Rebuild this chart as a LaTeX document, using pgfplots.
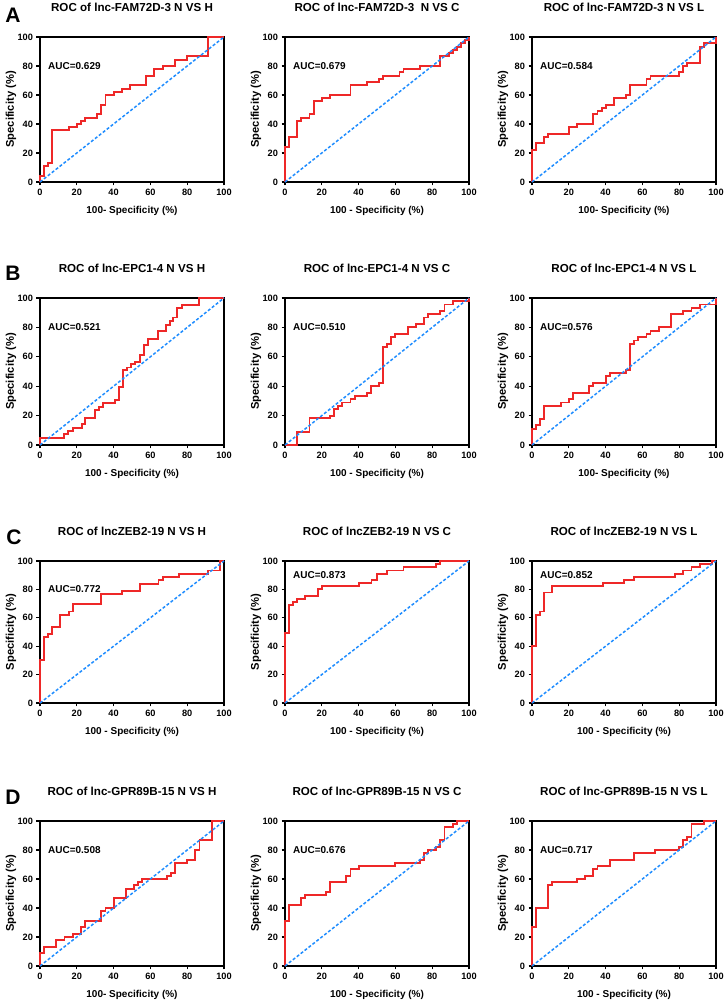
\documentclass[border=0pt]{standalone}
\usepackage{fontspec}
\setmainfont{Liberation Sans}
\usepackage{pgfplots}
\pgfplotsset{compat=1.18}
\definecolor{rocred}{RGB}{238,40,40}
\definecolor{diagblue}{RGB}{30,140,255}
\pgfplotsset{
  rocaxis/.style={
    scale only axis, width=184pt,
    xmin=0, xmax=100, ymin=0, ymax=100,
    xtick={0,20,...,100}, ytick={0,20,...,100},
    tick align=outside, xtick pos=bottom, ytick pos=left,
    major tick length=3.5pt,
    axis line style={line width=1.4pt},
    every tick/.style={black, line width=1.2pt},
    tick label style={font=\bfseries\fontsize{9.2}{10}\selectfont},
    /pgf/number format/assume math mode=true,
    title style={font=\bfseries\fontsize{11.6}{13}\selectfont, at={(0.5,1)}, anchor=center, yshift=24pt},
    xlabel style={font=\bfseries\fontsize{10}{12}\selectfont, at={(0.5,0)}, anchor=center, yshift=-29pt},
    ylabel={Specificity (\%)},
    ylabel style={font=\bfseries\fontsize{11.2}{13}\selectfont, at={(-0.158,0.5)}, anchor=center},
    clip=false,
  },
  roc/.style={rocred, line width=1.9pt, const plot mark left, mark=none},
  diag/.style={diagblue, line width=1.5pt, dash pattern=on 3pt off 2pt, mark=none},
}
\newcommand{\rocpanel}[8]{%
\begin{axis}[rocaxis, at={(#1pt,#2pt)}, anchor=north west, height=#3pt, title={#4}, xlabel={#5}]
\addplot[roc] coordinates {#8};
\addplot[diag] coordinates {(0,0)(100,100)};
\node[anchor=west, font=\bfseries\fontsize{10}{12}\selectfont] at (axis cs:2.5,#7) {AUC=#6};
\end{axis}}
\begin{document}
\begin{tikzpicture}
\useasboundingbox (0,0) rectangle (726pt,1007pt);
% Row A
\rocpanel{40}{970}{145}{ROC of lnc-FAM72D-3 N VS H}{100- Specificity (\%)}{0.629}{80}{(0,0)(0,4.4)(2.2,11.1)(4.4,13.3)(6.7,35.6)(15.6,37.8)(20,40)(22.2,42.2)(24.4,44.4)(31.1,46.7)(33.3,53.3)(35.6,60)(40,62.2)(44.4,64.4)(48.9,66.7)(57.8,73.3)(62.2,77.8)(66.7,80)(73.3,84.4)(80,86.7)(91.1,100)(100,100)}
\rocpanel{285}{970}{145}{ROC of lnc-FAM72D-3 \ N VS C}{100 - Specificity (\%)}{0.679}{80}{(0,0)(0,24.4)(2.2,31.1)(6.7,42.2)(8.9,44.4)(13.3,46.7)(15.6,55.6)(20,57.8)(24.4,60)(35.6,66.7)(44.4,68.9)(51.1,71.1)(53.3,73.3)(62.2,75.6)(64.4,77.8)(73.3,80)(84.4,86.7)(88.9,88.9)(91.1,91.1)(93.3,93.3)(95.6,95.6)(97.8,97.8)(100,100)}
\rocpanel{532}{970}{145}{ROC of lnc-FAM72D-3 N VS L}{100- Specificity (\%)}{0.584}{80}{(0,0)(0,22.2)(2.2,26.7)(6.7,31.1)(8.9,33.3)(20,37.8)(24.4,40)(33.3,46.7)(35.6,48.9)(37.8,51.1)(40,53.3)(44.4,57.8)(51.1,60)(53.3,66.7)(62.2,71.1)(64.4,73.3)(80,75.6)(82.2,80)(84.4,82.2)(91.1,93.3)(93.3,95.6)(100,100)}
% Row B
\rocpanel{40}{709}{147}{ROC of lnc-EPC1-4 N VS H}{100 - Specificity (\%)}{0.521}{80}{(0,0)(0,4.5)(13.2,7.2)(15.4,9.5)(17.8,11.5)(22.6,14.3)(24.6,18.6)(29.9,23.5)(32.1,26)(34.1,28.3)(40.8,30.5)(42.9,39.6)(45.3,50.9)(47.1,52.7)(49.3,54.8)(51.6,56.6)(54.3,61.1)(56.5,67.9)(58.9,72.4)(64.3,77.4)(68.3,81.9)(70.7,84.2)(72.5,86.7)(74.6,93.2)(77,95.5)(86.4,100)(100,100)}
\rocpanel{285}{709}{147}{ROC of lnc-EPC1-4 N VS C}{100 - Specificity (\%)}{0.510}{80}{(0,0)(6.7,9.1)(13.3,18.2)(24.4,20)(26.7,24.4)(28.9,26.7)(31.1,28.9)(35.6,31.1)(37.8,33.3)(44.4,35.6)(46.7,40)(51.1,42.2)(53.3,66.7)(55.6,68.9)(57.8,73.3)(60,75.6)(66.7,80)(71.1,82.2)(75.6,86.7)(77.8,88.9)(84.4,91.1)(86.7,95.6)(91.1,97.8)(100,100)}
\rocpanel{532}{709}{147}{ROC of lnc-EPC1-4 N VS L}{100- Specificity (\%)}{0.576}{80}{(0,0)(0,11.1)(2.2,13.3)(4.4,17.8)(6.7,26.7)(15.6,28.9)(20,31.1)(22.2,35.6)(31.1,40)(33.3,42.2)(40,46.7)(42.2,48.9)(51.1,51.1)(53.3,68.9)(55.6,71.1)(57.8,73.3)(62.2,75.6)(64.4,77.8)(68.9,80)(75.6,88.9)(82.2,91.1)(86.7,93.3)(91.1,95.6)(100,100)}
% Row C
\rocpanel{40}{446}{142}{ROC of lncZEB2-19 N VS H}{100 - Specificity (\%)}{0.772}{80}{(0,0)(0,30)(2.2,46.7)(4.4,48.9)(6.7,53.3)(11.1,62.2)(15.6,64.4)(17.8,70)(33.3,77)(44.4,79)(54.4,83.9)(64.4,86.7)(66.7,88.9)(75.6,91.1)(91.1,93.3)(97.8,100)(100,100)}
\rocpanel{285}{446}{142}{ROC of lncZEB2-19 N VS C}{100 - Specificity (\%)}{0.873}{90}{(0,0)(0,49)(2.2,68.9)(4.4,71.1)(6.7,73.3)(11.1,75.6)(17.8,80)(20,82.2)(40,84.4)(47,86.7)(50,91.1)(55.6,93.3)(64.4,95.6)(82,97.8)(84,100)(100,100)}
\rocpanel{532}{446}{142}{ROC of lncZEB2-19 N VS L}{100 - Specificity (\%)}{0.852}{90}{(0,0)(0,40)(2.2,62.2)(4.4,64.4)(6.7,77.8)(11.1,82.2)(38.6,84.4)(50,86.7)(55.6,88.9)(77.8,91.1)(82.2,93.3)(86.7,95.6)(91.1,97.8)(98,100)(100,100)}
% Row D
\rocpanel{40}{186}{145}{ROC of lnc-GPR89B-15 N VS H}{100- Specificity (\%)}{0.508}{80}{(0,0)(0,8.9)(2.2,13.3)(8.9,17.8)(13.3,20)(17.8,22.2)(22.2,26.7)(24.4,31.1)(33.3,37.8)(35.6,40)(40,46.7)(46.7,53.3)(51.1,55.6)(53.3,57.8)(55.6,60)(68.9,62.2)(71.1,64.4)(73.3,71.1)(80,73.3)(84.4,80)(86.7,86.7)(93.3,100)(100,100)}
\rocpanel{285}{186}{145}{ROC of lnc-GPR89B-15 N VS C}{100 - Specificity (\%)}{0.676}{80}{(0,0)(0,31.1)(2.2,42.2)(8.9,46.7)(11.1,48.9)(22.2,51.1)(24.4,57.8)(33.3,62.2)(35.6,66.7)(40,68.9)(60,71.1)(73.3,73.3)(75.6,77.8)(77.8,80)(82.2,82.2)(84.4,86.7)(86.7,95.6)(91.1,97.8)(93.3,100)(100,100)}
\rocpanel{532}{186}{145}{ROC of lnc-GPR89B-15 N VS L}{100 - Specificity (\%)}{0.717}{80}{(0,0)(0,26.7)(2.2,40)(8.9,55.6)(11.1,57.8)(24.4,60)(28.9,62.2)(33.3,66.7)(35.6,68.9)(42.2,73.3)(55.6,77.8)(66.7,80)(80,82.2)(82.2,86.7)(84.4,88.9)(86.7,97.8)(93.3,100)(100,100)}
% Panel letters
\node[font=\bfseries\fontsize{21}{24}\selectfont] at (13pt,992pt) {A};
\node[font=\bfseries\fontsize{21}{24}\selectfont] at (13pt,734pt) {B};
\node[font=\bfseries\fontsize{21}{24}\selectfont] at (14pt,470pt) {C};
\node[font=\bfseries\fontsize{21}{24}\selectfont] at (13pt,210pt) {D};
\end{tikzpicture}
\end{document}
